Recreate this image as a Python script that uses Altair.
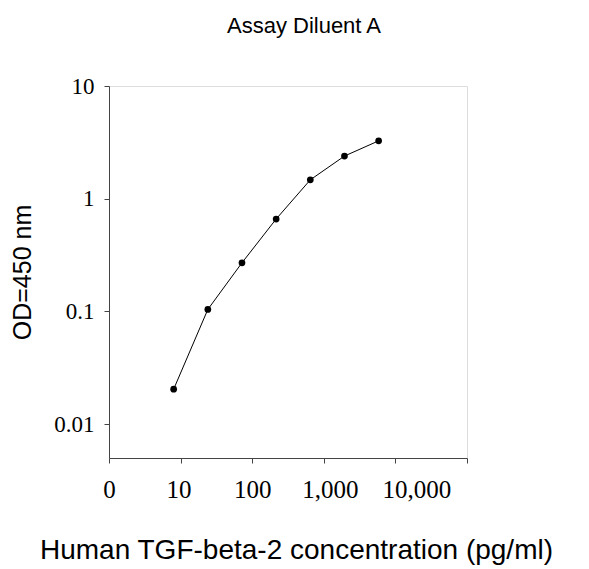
import altair as alt
import pandas as pd

# Data
concentration = [8, 24, 72, 216, 648, 1944, 5832]
od450 = [0.0204, 0.104, 0.27, 0.66, 1.47, 2.39, 3.26]

x_ticks = [1, 10, 100, 1000, 10000, 100000]
y_ticks = [0.01, 0.1, 1, 10]

df = pd.DataFrame({"conc": concentration, "od": od450})

serif = "Liberation Serif"
sans = "Liberation Sans"

x_enc = alt.X(
    "conc:Q",
    scale=alt.Scale(type="log", domain=[1, 100000]),
    axis=alt.Axis(
        values=x_ticks,
        labelExpr="datum.value == 1 ? '0' : (datum.value == 100000 ? '' : format(datum.value, ','))",
        labelFont=serif,
        labelFontSize=25,
        labelColor="black",
        labelPadding=14,
        labelOffset={
            "condition": [
                {"test": "datum.value == 10", "value": -2},
                {"test": "datum.value == 1000", "value": 6},
                {"test": "datum.value == 10000", "value": 21},
            ],
            "value": 0,
        },
        tickSize=5,
        tickColor="#444",
        domainColor="#444",
        grid=False,
        title="Human TGF-beta-2 concentration (pg/ml)",
        titleFont=sans,
        titleFontSize=28,
        titleFontWeight="normal",
        titleColor="black",
        titleX=187,
        titleY=92,
        titleBaseline="middle",
        labelFlush=False,
        labelOverlap=False,
    ),
)

y_enc = alt.Y(
    "od:Q",
    scale=alt.Scale(type="log", domain=[0.005, 10]),
    axis=alt.Axis(
        values=y_ticks,
        labelExpr="toString(datum.value)",
        labelFont=serif,
        labelFontSize=23,
        labelColor="black",
        labelPadding=10,
        tickSize=5,
        tickColor="#444",
        domainColor="#444",
        grid=False,
        title="OD=450 nm",
        titleFont=sans,
        titleFontSize=25,
        titleFontWeight="normal",
        titleColor="black",
        titleX=-87,
        titleBaseline="middle",
        labelFlush=False,
        labelOverlap=False,
    ),
)

base = alt.Chart(df).encode(x=x_enc, y=y_enc)
line = base.mark_line(color="black", strokeWidth=1)
pts = base.mark_circle(color="black", size=45, opacity=1)

chart = (
    alt.layer(line, pts)
    .properties(
        width=358,
        height=372,
        title=alt.TitleParams(
            "Assay Diluent A",
            font=sans,
            fontSize=22,
            fontWeight="normal",
            color="black",
            anchor="middle",
            baseline="middle",
            offset=27,
            dx=16,
        ),
        autosize=alt.AutoSizeParams(type="none"),
        padding={"left": 101, "top": 78, "right": 112, "bottom": 110},
    )
    .configure_view(stroke="#555", strokeWidth=1)
    .configure(background="white")
)

chart.save("out.html", embed_options={"renderer": "svg", "actions": False})
